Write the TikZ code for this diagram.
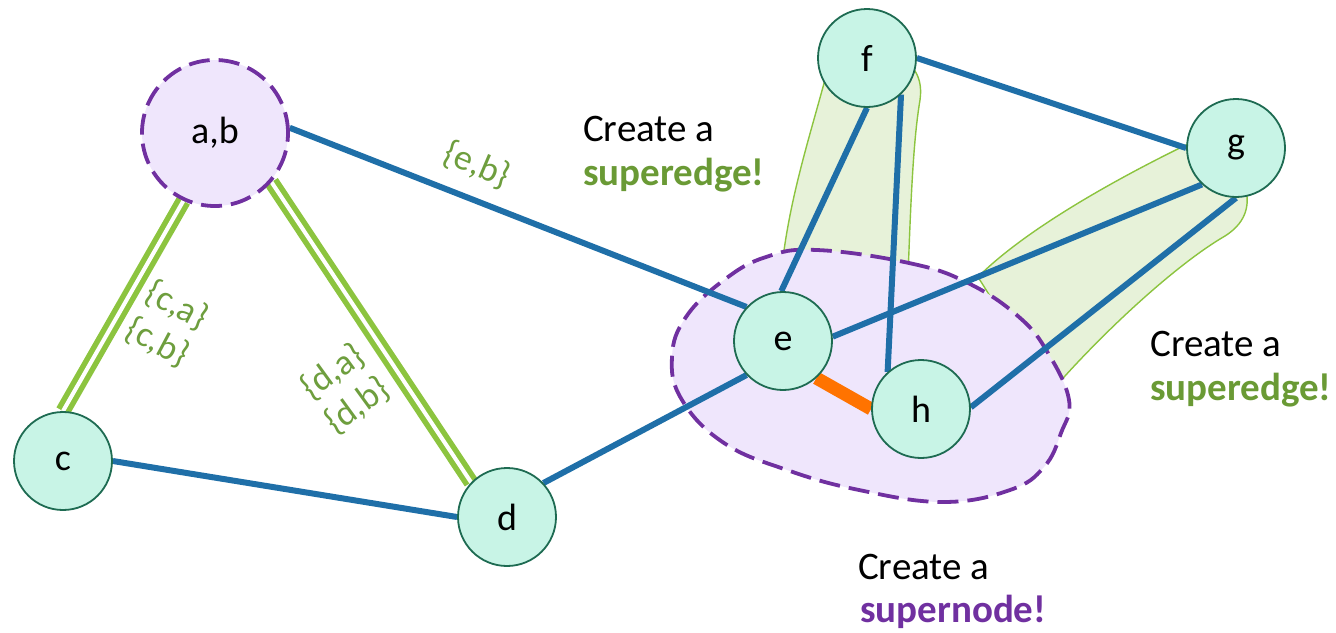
\documentclass[tikz,border=0pt]{standalone}
\usepackage{fontspec}
\setmainfont{Carlito}
\pgfdeclarelayer{bg}
\pgfsetlayers{bg,main}
\begin{document}
\begin{tikzpicture}[x=1pt,y=-1pt,
  vert/.style={circle, minimum size=98pt, inner sep=0pt, fill=mint, draw=nodeline, line width=1.8pt,
    font=\fontsize{38}{40}\selectfont},
  merged/.style={circle, minimum size=146pt, inner sep=0pt, fill=lav, draw=purp, line width=3.8pt,
    dash pattern=on 21pt off 9pt, font=\fontsize{38}{40}\selectfont},
  link/.style={draw=edgeblue, line width=6pt},
  dbl/.style={draw=lgreen, double=white, line width=5.5pt, double distance=4pt},
  heavy/.style={draw=orng, line width=13pt},
  band/.style={fill=bandfill, draw=lgreen, line width=1.4pt},
  supernode/.style={fill=lav, draw=purp, line width=3.8pt, dash pattern=on 21pt off 9pt},
  elabel/.style={text=olive2, font=\fontsize{36}{42}\selectfont, align=center, inner sep=0pt},
  note/.style={anchor=base west, inner sep=0pt, font=\fontsize{39}{44}\selectfont},
  hinote/.style={note, font=\fontsize{39}{44}\selectfont\bfseries},
]
\definecolor{mint}{HTML}{C8F4E6}
\definecolor{nodeline}{HTML}{1E6B52}
\definecolor{lav}{HTML}{EFE6FC}
\definecolor{purp}{HTML}{7030A0}
\definecolor{edgeblue}{HTML}{1F6FA8}
\definecolor{lgreen}{HTML}{8CC43F}
\definecolor{olive2}{HTML}{6E9E3E}
\definecolor{dgreen}{HTML}{6A9A35}
\definecolor{bandfill}{HTML}{E7F2D9}
\definecolor{orng}{HTML}{FF7300}

\useasboundingbox (0,0) rectangle (1336,632);

% vertices
\node[merged] (ab) at (215,133) {a,b};
\node[vert] (c) at (63,461) {c};
\node[vert] (d) at (507,517) {d};
\node[vert] (e) at (783,341) {e};
\node[vert] (h) at (921,409) {h};
\node[vert] (f) at (867,58) {f};
\node[vert] (g) at (1236,148) {g};

\begin{pgfonlayer}{bg}
% superedge bands
\path[band] (826,76) .. controls (806,150) and (784,215) .. (779,300) -- (907,300) -- (909,250)
  .. controls (912,170) and (915,130) .. (920,100) .. controls (922,86) and (919,76) .. (913,68) -- cycle;
\path[band] (1192,142) .. controls (1130,172) and (1030,225) .. (978,277) -- (1030,360) -- (1056,386)
  .. controls (1110,325) and (1180,262) .. (1225,236) .. controls (1244,224) and (1250,208) .. (1246,190) -- cycle;

% supernode region
\draw[supernode] plot[smooth cycle, tension=0.7] coordinates {
  (817,250) (909,263) (968,283) (1019,317) (1048,353) (1069,400) (1061,433) (1044,467)
  (1010,490) (943,502) (859,490) (787,470) (724,443) (682,400) (672,357) (686,317)
  (724,280) (766,257)};

% edges
\draw[link] (ab.4) -- (e.137);
\draw[link] (c.0) -- (d.180);
\draw[link] (d.43) -- (e.223);
\draw[link] (e.92) -- (f.-90);
\draw[link] (f.-47) -- (h.132);
\draw[link] (e.5) -- (g.-133);
\draw[link] (h.2) -- (g.-90);
\draw[link] (f.0) -- (g.180);
\draw[heavy] (e.-48) -- (h.180);
\draw[dbl] (ab.-115) -- (c.90);
\draw[dbl] (ab.-41) -- (d.136);
\end{pgfonlayer}

% edge labels
\node[elabel, rotate=-23] (leb) at (477,165) {\{e,b\}};
\node[elabel, rotate=-28] (lc) at (167,324) {\{c,a\}\\\{c,b\}};
\node[elabel, rotate=36] (ld) at (345,389) {\{d,a\}\\\{d,b\}};

% notes
\node[note] (n1a) at (583,141) {Create a};
\node[hinote, text=dgreen] (n1b) at (583,185) {superedge!};
\node[note] (n2a) at (1150,356) {Create a};
\node[hinote, text=dgreen] (n2b) at (1150,400) {superedge!};
\node[note] (n3a) at (858,579) {Create a};
\node[hinote, text=purp] (n3b) at (860,622) {supernode!};
\end{tikzpicture}
\end{document}
